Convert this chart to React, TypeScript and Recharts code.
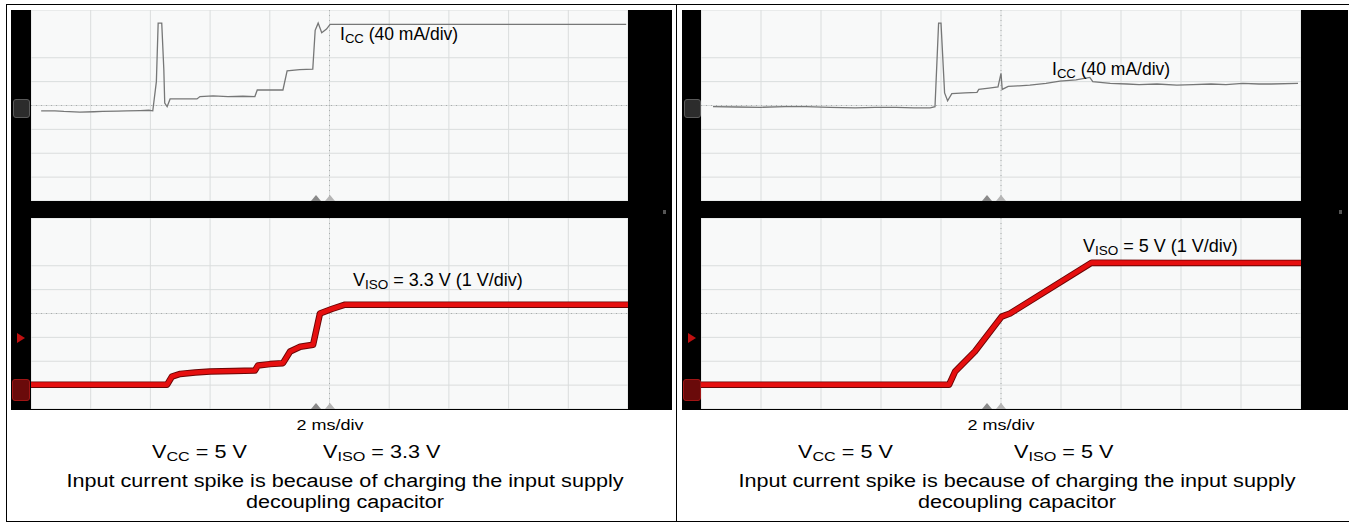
import React from 'react';
import { LineChart, Line, XAxis, YAxis, CartesianGrid, ReferenceLine } from 'recharts';

// time axis: ms (2 ms/div, 10 div)
const timeTicks = [-10, -8, -6, -4, -2, 0, 2, 4, 6, 8, 10];
// ICC axis: mA relative to screen centre (40 mA/div, 8 div)
const iccTicks = [-160, -120, -80, -40, 0, 40, 80, 120, 160];
// VISO axis: V (1 V/div, ground 3 div below centre)
const visoTicks = [-1, 0, 1, 2, 3, 4, 5, 6, 7];

// Left scope (VISO = 3.3 V)
const leftIccTime = [-9.66, -9.2, -8.9, -8.36, -7.9, -7.6, -7.1, -6.8, -6.34, -6.05, -5.92, -5.8, -5.74, -5.62, -5.55, -5.52, -5.44, -5.34, -4.9, -4.44, -4.34, -3.9, -3.4, -2.9, -2.5, -2.42, -1.9, -1.56, -1.42, -1.0, -0.56, -0.48, -0.38, -0.26, -0.1, 0.02, 3.0, 6.0, 9.94];
const leftIccMa = [-9, -9, -10, -11, -10.5, -10, -9.5, -9, -8.5, -8, -9, 40, 138, 138, 60, 4, -2, 11, 11, 11, 15, 16, 15, 15.5, 15, 26, 26, 26, 58, 60, 61, 126, 138, 122, 128, 136, 136, 136, 136];
const leftVisoTime = [-10, -7.5, -5.44, -5.28, -5.0, -4.5, -4.0, -3.2, -2.5, -2.4, -2.0, -1.56, -1.32, -0.98, -0.55, -0.49, -0.32, 0.1, 0.52, 3.0, 6.0, 10];
const leftVisoV = [0.02, 0.02, 0.02, 0.36, 0.47, 0.53, 0.57, 0.59, 0.61, 0.82, 0.88, 0.92, 1.41, 1.61, 1.69, 2.03, 3.0, 3.2, 3.37, 3.37, 3.37, 3.37];

// Right scope (VISO = 5 V)
const rightIccTime = [-9.6, -8.8, -8.0, -7.2, -6.5, -5.7, -4.86, -4.2, -3.5, -2.9, -2.36, -2.2, -2.08, -2.0, -1.88, -1.78, -1.64, -1.2, -0.8, -0.74, -0.4, -0.1, 0.0, 0.04, 0.24, 0.6, 0.96, 1.5, 1.96, 2.5, 2.96, 3.06, 3.64, 4.2, 4.6, 5.2, 5.86, 6.4, 7.0, 7.5, 8.06, 8.6, 9.0, 9.9];
const rightIccMa = [-2, -2.5, -3, -2, -2, -3, -4, -3, -3, -4, -4, -2, 138, 138, 21, 8, 20, 21, 22, 27, 29, 31, 54, 27, 32, 33, 34, 37, 41, 43, 47, 40, 37, 36, 35, 36, 34, 35, 36, 35, 37, 36, 36, 37];
const rightVisoTime = [-10, -6.0, -1.73, -1.53, -0.87, 0.02, 0.3, 3.02, 6.0, 10];
const rightVisoV = [0.02, 0.02, 0.02, 0.57, 1.41, 2.87, 3.0, 5.13, 5.12, 5.12];

const zip = (t: number[], v: number[]) => t.map((x, i) => ({ t: x, v: v[i] }));

const FONT = 'Arial, "Liberation Sans", sans-serif';

function Plot({ w, h, series, kind }: { w: number; h: number; series: { t: number; v: number }[]; kind: 'i' | 'v' }) {
  const isV = kind === 'v';
  return (
    <LineChart width={w} height={h} margin={{ top: 0, right: 0, bottom: 0, left: 0 }}>
      <XAxis type="number" dataKey="t" domain={[-10, 10]} ticks={timeTicks} hide allowDataOverflow />
      <YAxis type="number" dataKey="v" domain={isV ? [-1, 7] : [-160, 160]} ticks={isV ? visoTicks : iccTicks} hide allowDataOverflow />
      <CartesianGrid stroke="#dadddd" strokeWidth={1} />
      <ReferenceLine x={0} stroke="#a9adad" strokeDasharray="1 4" />
      <ReferenceLine y={isV ? 3 : 0} stroke="#a9adad" strokeDasharray="1 4" />
      {isV ? (
        <Line data={series} dataKey="v" stroke="#6a0505" strokeWidth={6.5} dot={false} isAnimationActive={false} strokeLinejoin="round" />
      ) : null}
      {isV ? (
        <Line data={series} dataKey="v" stroke="#e60f0f" strokeWidth={4.6} dot={false} isAnimationActive={false} strokeLinejoin="round" />
      ) : (
        <Line data={series} dataKey="v" stroke="#767777" strokeWidth={1.3} dot={false} isAnimationActive={false} />
      )}
    </LineChart>
  );
}

function Sub({ children, drop = 0.2 }: { children: React.ReactNode; drop?: number }) {
  return <span style={{ fontSize: '0.75em', position: 'relative', top: `${drop}em` }}>{children}</span>;
}

function Abs({ left, top, children, style }: { left: number; top: number; children?: React.ReactNode; style?: React.CSSProperties }) {
  return <div style={{ position: 'absolute', left, top, ...style }}>{children}</div>;
}

function Scope({ blackLeft, blackWidth, plotLeft, plotWidth, icc, viso, iccLabel, visoLabel }: any) {
  const cx = plotLeft + plotWidth / 2;
  const tri = (x: number, y: number, filled: boolean) => (
    <Abs left={x - 5} top={y} style={{ width: 0, height: 0, borderLeft: '5px solid transparent', borderRight: '5px solid transparent', borderBottom: `6px solid ${filled ? '#8a8a8a' : '#b5b5b5'}` }} />
  );
  return (
    <>
      <Abs left={blackLeft} top={10} style={{ width: blackWidth, height: 400, background: '#000' }} />
      <Abs left={plotLeft} top={10} style={{ width: plotWidth, height: 191, background: '#f8f9f9' }}>
        <Plot w={plotWidth} h={191} series={icc} kind="i" />
      </Abs>
      <Abs left={plotLeft} top={218} style={{ width: plotWidth, height: 191, background: '#f8f9f9' }}>
        <Plot w={plotWidth} h={191} series={viso} kind="v" />
      </Abs>
      {/* channel markers */}
      <Abs left={blackLeft + 2} top={99} style={{ width: 15, height: 17, borderRadius: 3, background: '#2c2c2c', border: '1px solid #5a5a5a' }} />
      <Abs left={blackLeft + 6} top={333} style={{ width: 0, height: 0, borderTop: '5px solid transparent', borderBottom: '5px solid transparent', borderLeft: '8px solid #c01010' }} />
      <Abs left={blackLeft + 1} top={379} style={{ width: 16, height: 20, borderRadius: 3, background: '#6a0a0a', border: '1px solid #a01515' }} />
      {tri(cx - 14, 195, true)}
      {tri(cx, 195, false)}
      {tri(cx - 14, 403, true)}
      {tri(cx, 403, false)}
      <Abs left={blackLeft + blackWidth - 9} top={210} style={{ width: 3, height: 4, background: '#555' }} />
      {iccLabel}
      {visoLabel}
    </>
  );
}

function Captions({ center, plotCenter, vccLeft, visoLeft, visoText }: any) {
  const stretch: React.CSSProperties = { transform: 'scaleX(1.2)', transformOrigin: 'left center', whiteSpace: 'nowrap', fontSize: 18, lineHeight: '18px', color: '#000' };
  const centered: React.CSSProperties = { position: 'absolute', width: 800, marginLeft: -400, textAlign: 'center', fontSize: 18, lineHeight: '18px', transform: 'scaleX(1.2)', whiteSpace: 'nowrap' };
  return (
    <>
      <div style={{ ...centered, left: plotCenter, top: 416, fontSize: 15 }}>2 ms/div</div>
      <Abs left={vccLeft} top={443} style={stretch}>V<Sub>CC</Sub> = 5 V</Abs>
      <Abs left={visoLeft} top={443} style={stretch}>V<Sub>ISO</Sub> = {visoText}</Abs>
      <div style={{ ...centered, left: center, top: 472 }}>Input current spike is because of charging the input supply</div>
      <div style={{ ...centered, left: center, top: 493 }}>decoupling capacitor</div>
    </>
  );
}

export default function App() {
  const lbl = (left: number, top: number, size: number, main: string, sub: string, rest: string) => (
    <Abs left={left} top={top} style={{ fontSize: size, lineHeight: `${size}px`, whiteSpace: 'nowrap', color: '#000' }}>
      {main}<Sub drop={0.22}>{sub}</Sub>{rest}
    </Abs>
  );
  return (
    <div style={{ position: 'absolute', left: 0, top: 0, width: 1349, height: 523, background: '#fff', fontFamily: FONT, overflow: 'hidden' }}>
      <Abs left={6} top={4} style={{ width: 1342, height: 516, borderTop: '1px solid #000', borderLeft: '1px solid #000', borderBottom: '1px solid #000', borderRight: '1px solid #000' }} />
      <Abs left={676} top={4} style={{ width: 1, height: 518, background: '#000' }} />
      <Scope
        blackLeft={11}
        blackWidth={661}
        plotLeft={31}
        plotWidth={597}
        icc={zip(leftIccTime, leftIccMa)}
        viso={zip(leftVisoTime, leftVisoV)}
        iccLabel={lbl(340, 26, 17.5, 'I', 'CC', ' (40 mA/div)')}
        visoLabel={lbl(353, 271, 18, 'V', 'ISO', ' = 3.3 V (1 V/div)')}
      />
      <Scope
        blackLeft={682}
        blackWidth={666}
        plotLeft={701}
        plotWidth={600}
        icc={zip(rightIccTime, rightIccMa)}
        viso={zip(rightVisoTime, rightVisoV)}
        iccLabel={lbl(1052, 61, 17.5, 'I', 'CC', ' (40 mA/div)')}
        visoLabel={lbl(1083, 237, 18, 'V', 'ISO', ' = 5 V (1 V/div)')}
      />
      <Captions center={345} plotCenter={329.5} vccLeft={152} visoLeft={323} visoText="3.3 V" />
      <Captions center={1017} plotCenter={1001} vccLeft={798} visoLeft={1014} visoText="5 V" />
    </div>
  );
}
